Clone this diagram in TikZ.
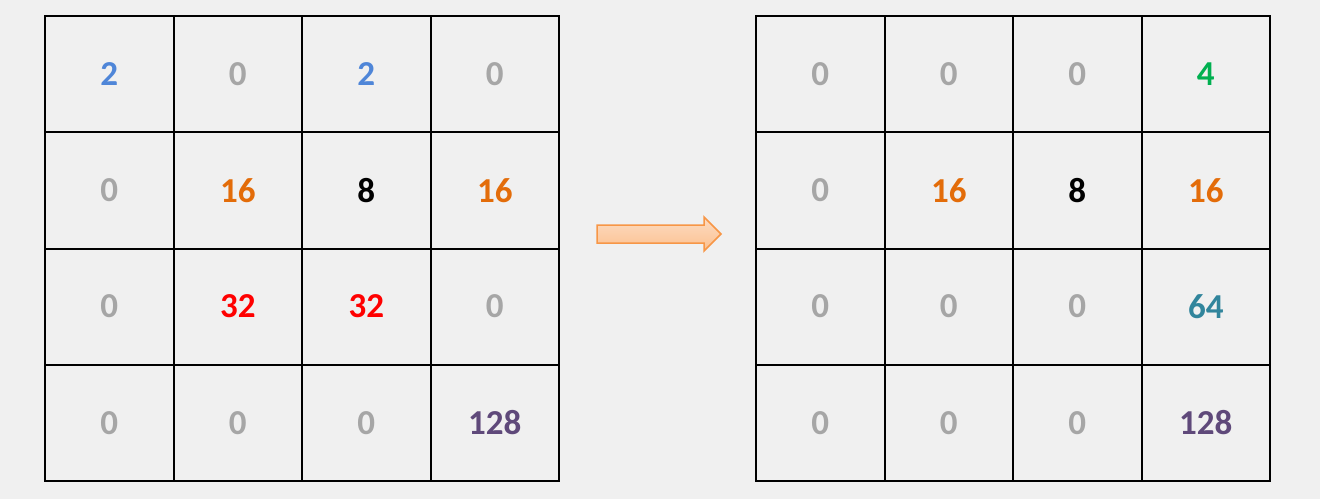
\documentclass[tikz,border=0pt]{standalone}
\usepackage{fontspec}
\setmainfont{Carlito}
\definecolor{bg}{HTML}{F0F0F0}
\definecolor{cgray}{HTML}{A6A6A6}
\definecolor{cblue}{HTML}{4F86D8}
\definecolor{corange}{HTML}{E36C09}
\definecolor{cred}{HTML}{FF0000}
\definecolor{cpurple}{HTML}{5F497A}
\definecolor{cgreen}{HTML}{00B050}
\definecolor{cteal}{HTML}{31859C}
\definecolor{arrowline}{HTML}{F79646}
\definecolor{arrowtop}{HTML}{FDDCC2}
\definecolor{arrowbot}{HTML}{FBC08F}
\tikzset{
  cell/.style={draw=black, line width=2pt, outer sep=0pt, minimum width=128.5pt, minimum height=116.25pt, inner sep=0pt, anchor=north west, font=\fontsize{35}{38}\selectfont\bfseries},
  blockarrow/.style={draw=arrowline, line width=1.5pt, line join=miter, top color=arrowtop, bottom color=arrowbot},
}
\begin{document}
\begin{tikzpicture}[x=1pt,y=-1pt]
\fill[bg] (0,0) rectangle (1320,499);
\useasboundingbox (0,0) rectangle (1320,499);
\def\LX{45}\def\RX{756}\def\TY{16}
\foreach \c/\r/\v/\col [count=\i] in {
0/0/2/cblue,1/0/0/cgray,2/0/2/cblue,3/0/0/cgray,
0/1/0/cgray,1/1/16/corange,2/1/8/black,3/1/16/corange,
0/2/0/cgray,1/2/32/cred,2/2/32/cred,3/2/0/cgray,
0/3/0/cgray,1/3/0/cgray,2/3/0/cgray,3/3/128/cpurple}{
  \node[cell,text=\col] (L\i) at ({\LX+\c*128.5},{\TY+\r*116.25}) {\raisebox{-2.5pt}{\v}};
}
\foreach \c/\r/\v/\col [count=\i] in {
0/0/0/cgray,1/0/0/cgray,2/0/0/cgray,3/0/4/cgreen,
0/1/0/cgray,1/1/16/corange,2/1/8/black,3/1/16/corange,
0/2/0/cgray,1/2/0/cgray,2/2/0/cgray,3/2/64/cteal,
0/3/0/cgray,1/3/0/cgray,2/3/0/cgray,3/3/128/cpurple}{
  \node[cell,text=\col] (R\i) at ({\RX+\c*128.5},{\TY+\r*116.25}) {\raisebox{-2.5pt}{\v}};
}
% arrow
\path[blockarrow] (597,225) -- (704,225) -- (704,217) -- (721,234) -- (704,251) -- (704,243) -- (597,243) -- cycle;
\end{tikzpicture}
\end{document}
